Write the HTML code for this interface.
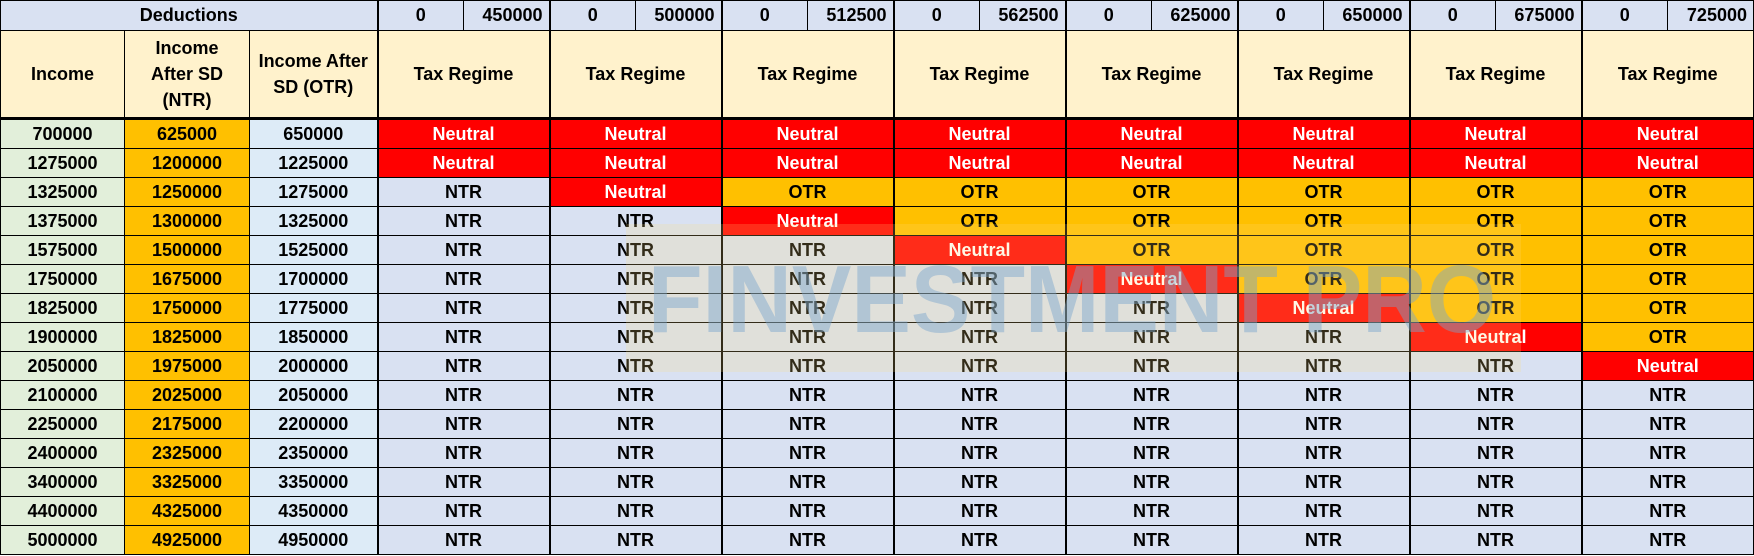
<!DOCTYPE html>
<html><head><meta charset="utf-8"><style>
html,body{margin:0;padding:0;background:#fff;}
body{width:1754px;height:556px;position:relative;overflow:hidden;font-family:"Liberation Sans",sans-serif;font-weight:bold;font-size:18px;color:#000;}
table{border-collapse:collapse;table-layout:fixed;position:absolute;left:0;top:0;}
td{border:1px solid #000;text-align:center;padding:0;overflow:hidden;white-space:nowrap;}
tr.h1 td{height:29px;background:#D9E1F2;}
tr.h2 td{height:86px;background:#FFF2CC;white-space:normal;line-height:26px;border-bottom:3px solid #000;}
tr.r td{height:28px;}
.inc{background:#E2EFDA;}
.ntrc{background:#FFC000;}
.otrc{background:#DDEBF7;border-right:2px solid #000 !important;}
.n{background:#D9E1F2;}
.x{background:#FF0000;color:#fff;}
.o{background:#FFC000;}
.l{border-left:2px solid #000 !important;}
#wm{position:absolute;left:626px;top:224px;width:895px;height:148px;background:rgba(255,220,124,0.2);}
#wt{position:absolute;left:648px;top:252px;font-size:96px;line-height:96px;color:rgba(120,165,205,0.45);transform:scaleX(0.93);transform-origin:0 0;white-space:nowrap;}
</style></head><body>
<table>
<colgroup><col style="width:124px"><col style="width:125px"><col style="width:128px">
<col style="width:86px"><col style="width:86px"><col style="width:86px"><col style="width:86px"><col style="width:86px"><col style="width:86px"><col style="width:86px"><col style="width:86px"><col style="width:86px"><col style="width:86px"><col style="width:86px"><col style="width:86px"><col style="width:86px"><col style="width:86px"><col style="width:86px"><col style="width:86px"></colgroup>
<tr class="h1"><td colspan="3" style="border-right:2px solid #000">Deductions</td>
<td class="l">0</td><td style="text-align:right;padding-right:6px">450000</td>
<td class="l">0</td><td style="text-align:right;padding-right:6px">500000</td>
<td class="l">0</td><td style="text-align:right;padding-right:6px">512500</td>
<td class="l">0</td><td style="text-align:right;padding-right:6px">562500</td>
<td class="l">0</td><td style="text-align:right;padding-right:6px">625000</td>
<td class="l">0</td><td style="text-align:right;padding-right:6px">650000</td>
<td class="l">0</td><td style="text-align:right;padding-right:6px">675000</td>
<td class="l">0</td><td style="text-align:right;padding-right:6px">725000</td></tr>
<tr class="h2"><td>Income</td><td>Income<br>After SD<br>(NTR)</td><td style="border-right:2px solid #000">Income After<br>SD (OTR)</td>
<td colspan="2" class="l">Tax Regime</td><td colspan="2" class="l">Tax Regime</td><td colspan="2" class="l">Tax Regime</td><td colspan="2" class="l">Tax Regime</td><td colspan="2" class="l">Tax Regime</td><td colspan="2" class="l">Tax Regime</td><td colspan="2" class="l">Tax Regime</td><td colspan="2" class="l">Tax Regime</td></tr>
<tr class="r"><td class="inc">700000</td><td class="ntrc">625000</td><td class="otrc">650000</td><td colspan="2" class="x l">Neutral</td><td colspan="2" class="x l">Neutral</td><td colspan="2" class="x l">Neutral</td><td colspan="2" class="x l">Neutral</td><td colspan="2" class="x l">Neutral</td><td colspan="2" class="x l">Neutral</td><td colspan="2" class="x l">Neutral</td><td colspan="2" class="x l">Neutral</td></tr>
<tr class="r"><td class="inc">1275000</td><td class="ntrc">1200000</td><td class="otrc">1225000</td><td colspan="2" class="x l">Neutral</td><td colspan="2" class="x l">Neutral</td><td colspan="2" class="x l">Neutral</td><td colspan="2" class="x l">Neutral</td><td colspan="2" class="x l">Neutral</td><td colspan="2" class="x l">Neutral</td><td colspan="2" class="x l">Neutral</td><td colspan="2" class="x l">Neutral</td></tr>
<tr class="r"><td class="inc">1325000</td><td class="ntrc">1250000</td><td class="otrc">1275000</td><td colspan="2" class="n l">NTR</td><td colspan="2" class="x l">Neutral</td><td colspan="2" class="o l">OTR</td><td colspan="2" class="o l">OTR</td><td colspan="2" class="o l">OTR</td><td colspan="2" class="o l">OTR</td><td colspan="2" class="o l">OTR</td><td colspan="2" class="o l">OTR</td></tr>
<tr class="r"><td class="inc">1375000</td><td class="ntrc">1300000</td><td class="otrc">1325000</td><td colspan="2" class="n l">NTR</td><td colspan="2" class="n l">NTR</td><td colspan="2" class="x l">Neutral</td><td colspan="2" class="o l">OTR</td><td colspan="2" class="o l">OTR</td><td colspan="2" class="o l">OTR</td><td colspan="2" class="o l">OTR</td><td colspan="2" class="o l">OTR</td></tr>
<tr class="r"><td class="inc">1575000</td><td class="ntrc">1500000</td><td class="otrc">1525000</td><td colspan="2" class="n l">NTR</td><td colspan="2" class="n l">NTR</td><td colspan="2" class="n l">NTR</td><td colspan="2" class="x l">Neutral</td><td colspan="2" class="o l">OTR</td><td colspan="2" class="o l">OTR</td><td colspan="2" class="o l">OTR</td><td colspan="2" class="o l">OTR</td></tr>
<tr class="r"><td class="inc">1750000</td><td class="ntrc">1675000</td><td class="otrc">1700000</td><td colspan="2" class="n l">NTR</td><td colspan="2" class="n l">NTR</td><td colspan="2" class="n l">NTR</td><td colspan="2" class="n l">NTR</td><td colspan="2" class="x l">Neutral</td><td colspan="2" class="o l">OTR</td><td colspan="2" class="o l">OTR</td><td colspan="2" class="o l">OTR</td></tr>
<tr class="r"><td class="inc">1825000</td><td class="ntrc">1750000</td><td class="otrc">1775000</td><td colspan="2" class="n l">NTR</td><td colspan="2" class="n l">NTR</td><td colspan="2" class="n l">NTR</td><td colspan="2" class="n l">NTR</td><td colspan="2" class="n l">NTR</td><td colspan="2" class="x l">Neutral</td><td colspan="2" class="o l">OTR</td><td colspan="2" class="o l">OTR</td></tr>
<tr class="r"><td class="inc">1900000</td><td class="ntrc">1825000</td><td class="otrc">1850000</td><td colspan="2" class="n l">NTR</td><td colspan="2" class="n l">NTR</td><td colspan="2" class="n l">NTR</td><td colspan="2" class="n l">NTR</td><td colspan="2" class="n l">NTR</td><td colspan="2" class="n l">NTR</td><td colspan="2" class="x l">Neutral</td><td colspan="2" class="o l">OTR</td></tr>
<tr class="r"><td class="inc">2050000</td><td class="ntrc">1975000</td><td class="otrc">2000000</td><td colspan="2" class="n l">NTR</td><td colspan="2" class="n l">NTR</td><td colspan="2" class="n l">NTR</td><td colspan="2" class="n l">NTR</td><td colspan="2" class="n l">NTR</td><td colspan="2" class="n l">NTR</td><td colspan="2" class="n l">NTR</td><td colspan="2" class="x l">Neutral</td></tr>
<tr class="r"><td class="inc">2100000</td><td class="ntrc">2025000</td><td class="otrc">2050000</td><td colspan="2" class="n l">NTR</td><td colspan="2" class="n l">NTR</td><td colspan="2" class="n l">NTR</td><td colspan="2" class="n l">NTR</td><td colspan="2" class="n l">NTR</td><td colspan="2" class="n l">NTR</td><td colspan="2" class="n l">NTR</td><td colspan="2" class="n l">NTR</td></tr>
<tr class="r"><td class="inc">2250000</td><td class="ntrc">2175000</td><td class="otrc">2200000</td><td colspan="2" class="n l">NTR</td><td colspan="2" class="n l">NTR</td><td colspan="2" class="n l">NTR</td><td colspan="2" class="n l">NTR</td><td colspan="2" class="n l">NTR</td><td colspan="2" class="n l">NTR</td><td colspan="2" class="n l">NTR</td><td colspan="2" class="n l">NTR</td></tr>
<tr class="r"><td class="inc">2400000</td><td class="ntrc">2325000</td><td class="otrc">2350000</td><td colspan="2" class="n l">NTR</td><td colspan="2" class="n l">NTR</td><td colspan="2" class="n l">NTR</td><td colspan="2" class="n l">NTR</td><td colspan="2" class="n l">NTR</td><td colspan="2" class="n l">NTR</td><td colspan="2" class="n l">NTR</td><td colspan="2" class="n l">NTR</td></tr>
<tr class="r"><td class="inc">3400000</td><td class="ntrc">3325000</td><td class="otrc">3350000</td><td colspan="2" class="n l">NTR</td><td colspan="2" class="n l">NTR</td><td colspan="2" class="n l">NTR</td><td colspan="2" class="n l">NTR</td><td colspan="2" class="n l">NTR</td><td colspan="2" class="n l">NTR</td><td colspan="2" class="n l">NTR</td><td colspan="2" class="n l">NTR</td></tr>
<tr class="r"><td class="inc">4400000</td><td class="ntrc">4325000</td><td class="otrc">4350000</td><td colspan="2" class="n l">NTR</td><td colspan="2" class="n l">NTR</td><td colspan="2" class="n l">NTR</td><td colspan="2" class="n l">NTR</td><td colspan="2" class="n l">NTR</td><td colspan="2" class="n l">NTR</td><td colspan="2" class="n l">NTR</td><td colspan="2" class="n l">NTR</td></tr>
<tr class="r"><td class="inc">5000000</td><td class="ntrc">4925000</td><td class="otrc">4950000</td><td colspan="2" class="n l">NTR</td><td colspan="2" class="n l">NTR</td><td colspan="2" class="n l">NTR</td><td colspan="2" class="n l">NTR</td><td colspan="2" class="n l">NTR</td><td colspan="2" class="n l">NTR</td><td colspan="2" class="n l">NTR</td><td colspan="2" class="n l">NTR</td></tr>
</table>
<div id="wm"></div>
<div id="wt">FINVESTMENT PRO</div>
</body></html>
